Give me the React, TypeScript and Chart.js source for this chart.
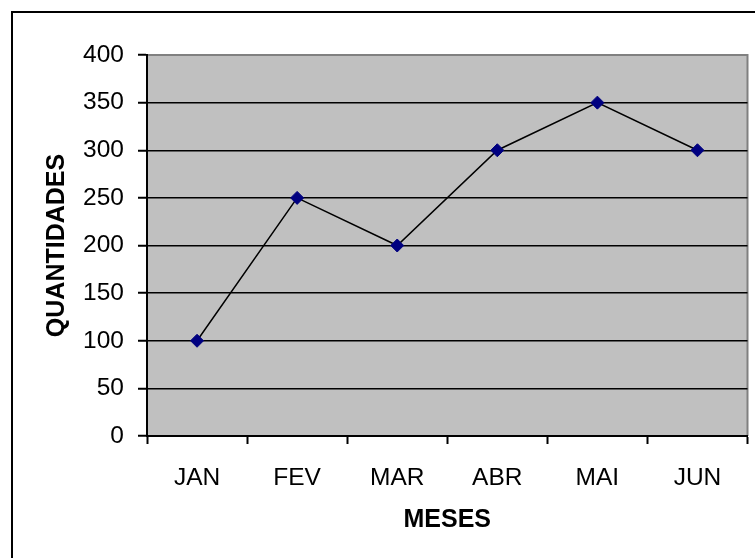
import React, { useEffect, useRef } from "react";
import { Chart, registerables } from "chart.js";

Chart.register(...registerables);

const months = ["JAN", "FEV", "MAR", "ABR", "MAI", "JUN"];
const quantities = [100, 250, 200, 300, 350, 300];
const yMin = 0;
const yMax = 400;
const yStep = 50;
const xTitle = "MESES";
const yTitle = "QUANTIDADES";

const FONT = "'Liberation Sans', Arial, sans-serif";

const framePlugin = {
  id: "frame",
  beforeDraw(chart: any) {
    const { ctx, chartArea } = chart;
    ctx.save();
    ctx.fillStyle = "#ffffff";
    ctx.fillRect(0, 0, chart.width, chart.height);
    // outer border (extends beyond the canvas on right and bottom)
    ctx.strokeStyle = "#000000";
    ctx.lineWidth = 2;
    ctx.strokeRect(12, 12, chart.width + 20, chart.height + 20);
    // plot area
    ctx.fillStyle = "#C0C0C0";
    ctx.fillRect(chartArea.left, chartArea.top, chartArea.right - chartArea.left, chartArea.bottom - chartArea.top);
    ctx.strokeStyle = "#808080";
    ctx.lineWidth = 2;
    ctx.beginPath();
    ctx.moveTo(chartArea.left, chartArea.top);
    ctx.lineTo(chartArea.right, chartArea.top);
    ctx.lineTo(chartArea.right, chartArea.bottom);
    ctx.stroke();
    ctx.restore();
  },
};

export default function App() {
  const ref = useRef<HTMLCanvasElement>(null);
  useEffect(() => {
    if (!ref.current) return;
    const chart = new Chart(ref.current, {
      type: "line",
      data: {
        labels: months,
        datasets: [
          {
            data: quantities,
            borderColor: "#000000",
            borderWidth: 1.5,
            pointStyle: "rectRot",
            pointRadius: 6.5,
            pointBackgroundColor: "#000080",
            pointBorderColor: "#000080",
            pointBorderWidth: 1,
            tension: 0,
          },
        ],
      },
      options: {
        animation: false,
        responsive: false,
        devicePixelRatio: 1,
        layout: { padding: { left: 0, top: 55, right: 5, bottom: 0 } },
        plugins: { legend: { display: false }, tooltip: { enabled: false } },
        scales: {
          x: {
            type: "category",
            offset: true,
            afterFit: (s: any) => {
              s.height = 122;
            },
            grid: {
              display: true,
              offset: true,
              drawOnChartArea: false,
              drawTicks: true,
              tickLength: 8,
              tickColor: "#000000",
              tickWidth: 2,
            },
            border: { display: true, color: "#000000", width: 2 },
            ticks: {
              color: "#000000",
              padding: 20,
              maxRotation: 0,
              autoSkip: false,
              font: { family: FONT, size: 24.5 },
            },
            title: {
              display: true,
              text: xTitle,
              color: "#000000",
              font: { family: FONT, size: 25, weight: "bold", lineHeight: 1 },
              padding: { top: 0, bottom: 25 },
            },
          },
          y: {
            min: yMin,
            max: yMax,
            afterFit: (s: any) => {
              s.width = 147;
            },
            grid: {
              color: (c: any) => (c.tick && c.tick.value === yMax ? "#808080" : "#000000"),
              lineWidth: 1.5,
              drawTicks: true,
              tickLength: 9,
              tickColor: "#000000",
              tickWidth: 2,
            },
            border: { display: true, color: "#000000", width: 2 },
            ticks: {
              stepSize: yStep,
              color: "#000000",
              padding: 14,
              font: { family: FONT, size: 24.5 },
            },
            title: {
              display: true,
              text: yTitle,
              color: "#000000",
              font: { family: FONT, size: 25, weight: "bold", lineHeight: 1 },
              padding: { top: 45, bottom: 0 },
            },
          },
        },
      },
      plugins: [framePlugin],
    });
    return () => chart.destroy();
  }, []);
  return (
    <div style={{ position: "absolute", left: 0, top: 0, width: 755, height: 558 }}>
      <canvas ref={ref} width={755} height={558} style={{ width: 755, height: 558 }} />
    </div>
  );
}
